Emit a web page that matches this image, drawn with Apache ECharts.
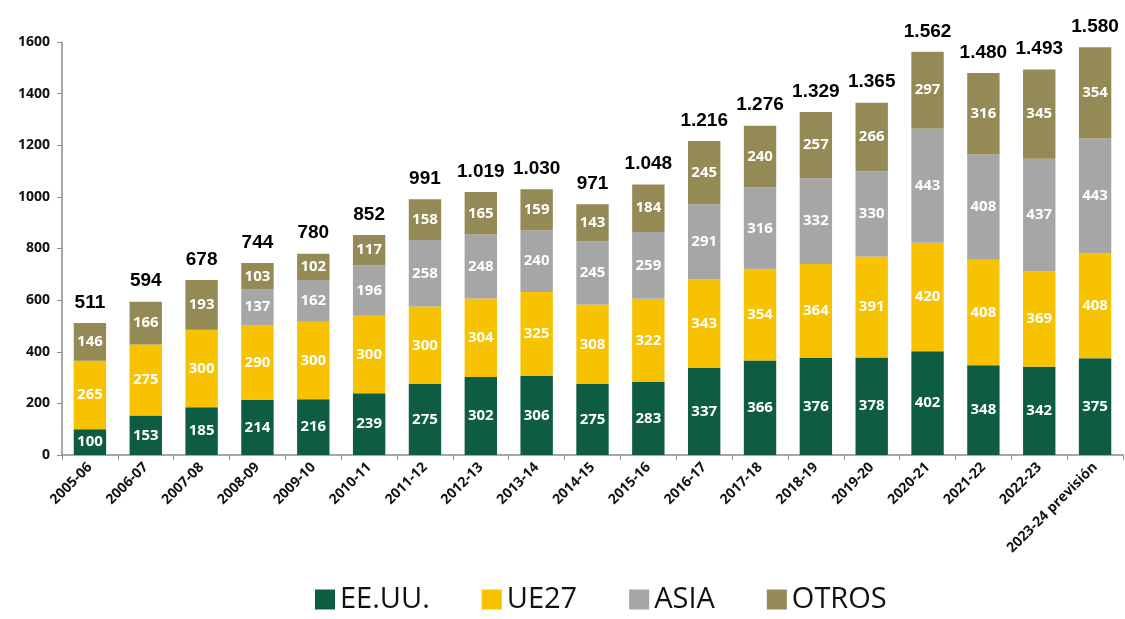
<!DOCTYPE html>
<html>
<head>
<meta charset="utf-8">
<script src="https://cdn.jsdelivr.net/npm/echarts@6/dist/echarts.min.js"></script>
<style>
  html, body { margin: 0; padding: 0; background: #fff; }
  #main { width: 1125px; height: 619px; }
</style>
</head>
<body>
<div id="main"></div>
<script>
// datos
var categories = ['2005-06', '2006-07', '2007-08', '2008-09', '2009-10', '2010-11', '2011-12', '2012-13', '2013-14', '2014-15', '2015-16', '2016-17', '2017-18', '2018-19', '2019-20', '2020-21', '2021-22', '2022-23', '2023-24 previsión']
var eeuu = [100, 153, 185, 214, 216, 239, 275, 302, 306, 275, 283, 337, 366, 376, 378, 402, 348, 342, 375]
var ue27 = [265, 275, 300, 290, 300, 300, 300, 304, 325, 308, 322, 343, 354, 364, 391, 420, 408, 369, 408]
var asia = [null, null, null, 137, 162, 196, 258, 248, 240, 245, 259, 291, 316, 332, 330, 443, 408, 437, 443]
var otros = [146, 166, 193, 103, 102, 117, 158, 165, 159, 143, 184, 245, 240, 257, 266, 297, 316, 345, 354]
var totals = [511, 594, 678, 744, 780, 852, 991, 1019, 1030, 971, 1048, 1216, 1276, 1329, 1365, 1562, 1480, 1493, 1580]
var yTicks = { min: 0, max: 1600, interval: 200 }

var chart = echarts.init(document.getElementById('main'))

var segLabel = {
  show: true,
  position: 'inside',
  color: '#fff',
  fontFamily: 'Open Sans',
  fontWeight: 'bold',
  fontSize: 15
}

function barSeries(name, data, color) {
  return {
    name: name,
    type: 'bar',
    stack: 'total',
    barWidth: '58%',
    data: data,
    itemStyle: { color: color },
    label: segLabel
  }
}

var option = {
  animation: false,
  grid: { left: 62, right: 2, top: 42, bottom: 164, containLabel: false },
  legend: {
    data: ['EE.UU.', 'UE27', 'ASIA', 'OTROS'],
    bottom: 0,
    left: 310,
    icon: 'rect',
    itemWidth: 20,
    itemHeight: 20,
    itemGap: 52,
    textStyle: { fontFamily: 'Open Sans', fontSize: 29, color: '#111' }
  },
  xAxis: {
    type: 'category',
    data: categories,
    axisLine: { lineStyle: { color: '#8c8c8c', width: 1.5 } },
    axisTick: { show: true, length: 5, lineStyle: { color: '#8c8c8c' } },
    axisLabel: {
      rotate: 45,
      interval: 0,
      margin: 10,
      color: '#111',
      fontFamily: 'Open Sans',
      fontWeight: 'bold',
      fontSize: 14
    }
  },
  yAxis: {
    type: 'value',
    min: yTicks.min,
    max: yTicks.max,
    interval: yTicks.interval,
    splitLine: { show: false },
    axisLine: { show: true, lineStyle: { color: '#8c8c8c', width: 1.5 } },
    axisTick: { show: true, length: 5, lineStyle: { color: '#8c8c8c' } },
    axisLabel: {
      color: '#111',
      fontFamily: 'Open Sans',
      fontWeight: 'bold',
      fontSize: 14,
      margin: 12,
      formatter: function (v) { return String(v) }
    }
  },
  series: [
    barSeries('EE.UU.', eeuu, '#0f5c45'),
    barSeries('UE27', ue27, '#f7c200'),
    barSeries('ASIA', asia, '#a6a6a6'),
    barSeries('OTROS', otros, '#948a55'),
    {
      name: 'Total',
      type: 'scatter',
      data: totals,
      symbolSize: 2,
      itemStyle: { color: 'rgba(0,0,0,0)', opacity: 1 },
      silent: true,
      z: 10,
      label: {
        show: true,
        position: 'top',
        distance: 10,
        color: '#000',
        opacity: 1,
        fontFamily: 'Liberation Sans',
        fontWeight: 'bold',
        fontSize: 19,
        formatter: function (p) {
          return String(p.value).replace(/\B(?=(\d{3})+(?!\d))/g, '.')
        }
      }
    }
  ]
}

chart.setOption(option)
</script>
</body>
</html>
